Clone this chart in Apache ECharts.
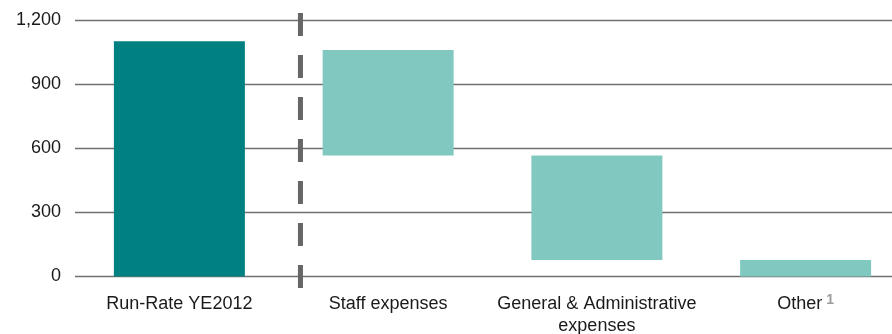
<!DOCTYPE html>
<html>
<head>
<meta charset="utf-8">
<script src="https://cdn.jsdelivr.net/npm/echarts@6/dist/echarts.min.js"></script>
<style>
  html, body { margin: 0; padding: 0; background: #fff; }
  #chart { width: 892px; height: 334px; }
</style>
</head>
<body>
<div id="chart"></div>
<script>
// Cost bridge: starting run-rate, then the blocks that step it down
const categories = ['Run-Rate YE2012', 'Staff expenses', 'General & Administrative\nexpenses', 'Other'];
const barLow  = [0, 567, 77, 0];       // bottom of each floating bar
const barHigh = [1103, 1062, 567, 77]; // top of each floating bar
const yTicks = [0, 300, 600, 900, 1200];
// divider sits this far (in category units) to the right of the first category
const dividerOffset = 0.58;

const DARK = '#008080';
const LIGHT = '#81c9c0';

const baseVals = barLow;
const spanVals = barHigh.map((h, i) => h - barLow[i]);

const chart = echarts.init(document.getElementById('chart'), null, { renderer: 'canvas' });

chart.setOption({
  animation: false,
  textStyle: { fontFamily: 'Liberation Sans, Arial, sans-serif' },
  grid: { left: 75, top: 20.5, width: 835, height: 256, containLabel: false, outerBoundsMode: 'none' },
  xAxis: {
    type: 'category',
    data: categories,
    axisLine: { show: false },
    axisTick: { show: false },
    axisLabel: {
      margin: 17,
      fontSize: 18,
      color: '#1a1a1a',
      lineHeight: 22,
      interval: 0,
      formatter: v => v === 'Other' ? '{t|Other}{s|1}' : v,
      rich: {
        t: { fontSize: 18, color: '#1a1a1a', lineHeight: 22 },
        s: { fontSize: 14, lineHeight: 10, color: '#9c9c9c', fontWeight: 'bold', verticalAlign: 'top', padding: [0, 0, 0, 4] }
      }
    }
  },
  yAxis: {
    type: 'value',
    min: yTicks[0],
    max: yTicks[yTicks.length - 1],
    interval: 300,
    axisLine: { show: false },
    axisTick: { show: false },
    axisLabel: {
      margin: 14,
      fontSize: 18,
      color: '#1a1a1a',
      formatter: v => v.toLocaleString('en-US')
    },
    splitLine: { lineStyle: { color: '#707070', width: 1.3 } }
  },
  series: [
    {
      type: 'bar',
      stack: 'bridge',
      data: baseVals,
      barWidth: 131,
      itemStyle: { color: 'transparent' },
      silent: true
    },
    {
      type: 'bar',
      stack: 'bridge',
      data: spanVals.map((v, i) => ({ value: v, itemStyle: { color: i === 0 ? DARK : LIGHT } })),
      barWidth: 131
    }
  ]
});

// Dashed separator between the starting bar and the reduction blocks
const c0 = chart.convertToPixel({ xAxisIndex: 0 }, categories[0]);
const c1 = chart.convertToPixel({ xAxisIndex: 0 }, categories[1]);
const dx = c0 + (c1 - c0) * dividerOffset;
const yTop = chart.convertToPixel({ yAxisIndex: 0 }, 1200) - 7.5;
const yBot = chart.convertToPixel({ yAxisIndex: 0 }, 0) + 11.5;
chart.setOption({
  graphic: [{
    type: 'line',
    shape: { x1: dx, y1: yTop, x2: dx, y2: yBot },
    style: { stroke: '#666', lineWidth: 5, lineDash: [23, 19], lineCap: 'butt' },
    z: 10
  }]
});
</script>
</body>
</html>
